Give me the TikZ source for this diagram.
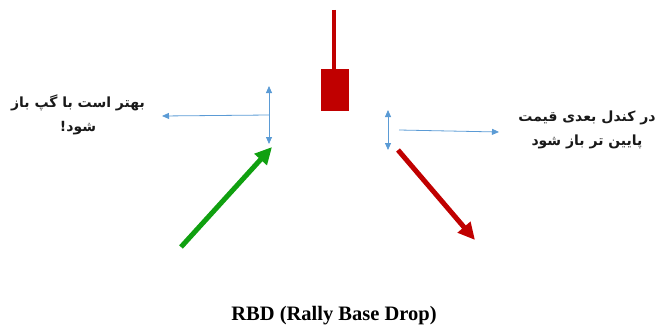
\documentclass[tikz,border=0pt]{standalone}
\usepackage{fontspec}
\setmainfont{Liberation Serif}
\newfontfamily\farsifont[Script=Arabic,BoldFont={DejaVu Sans Bold}]{DejaVu Sans}
\TeXXeTstate=1
\usetikzlibrary{arrows.meta}
\definecolor{candlered}{RGB}{192,0,0}
\definecolor{trendgreen}{RGB}{16,160,16}
\definecolor{gapblue}{RGB}{91,155,213}
\tikzset{
  gap/.style={draw=gapblue, line width=0.8pt, -{Triangle[length=7pt,width=6pt]}},
  trend/.style={line width=5pt, -{Triangle[length=17pt,width=16pt]}},
  farsi/.style={font=\farsifont\bfseries\fontsize{14}{24}\selectfont, align=center, text=black!90}
}
\begin{document}
\begin{tikzpicture}[x=1pt,y=-1pt]
  \useasboundingbox (0,0) rectangle (663,329);

  % candle
  \coordinate (w1) at (334,10);
  \coordinate (w2) at (334,70);
  \node (body) [fill=candlered, inner sep=0pt, minimum width=28pt, minimum height=42pt] at (335,90) {};

  % left gap marks
  \coordinate (lt) at (269,86);
  \coordinate (lb) at (269,144);
  \coordinate (lm) at (269,115);
  \coordinate (lx) at (162,116);

  % right gap marks
  \coordinate (rt) at (388,110);
  \coordinate (rb) at (388,150);
  \coordinate (rc) at (388,130);
  \coordinate (rm) at (399,130);
  \coordinate (rx) at (499,132);

  % trend arrows
  \coordinate (g1) at (181,247);
  \coordinate (g2) at (272,147);
  \coordinate (d1) at (398,150);
  \coordinate (d2) at (475,240);

  \node (ltext) [farsi] at (78,115) {\beginR بهتر است با گپ باز\endR\\ \beginR شود!\endR};
  \node (rtext) [farsi] at (587,130) {\beginR در کندل بعدی قیمت\endR\\ \beginR پایین تر باز شود\endR};
  \node (title) [font=\bfseries\fontsize{20.5}{24}\selectfont] at (334,316) {RBD (Rally Base Drop)};

  \draw [candlered, line width=4pt] (w1) -- (w2);

  \draw [gap] (lm) -- (lt); \draw [gap] (lm) -- (lb);
  \draw [gap] (lm) -- (lx);
  \draw [gap] (rc) -- (rt); \draw [gap] (rc) -- (rb);
  \draw [gap] (rm) -- (rx);

  \draw [trend, trendgreen] (g1) -- (g2);
  \draw [trend, candlered] (d1) -- (d2);
\end{tikzpicture}
\end{document}
